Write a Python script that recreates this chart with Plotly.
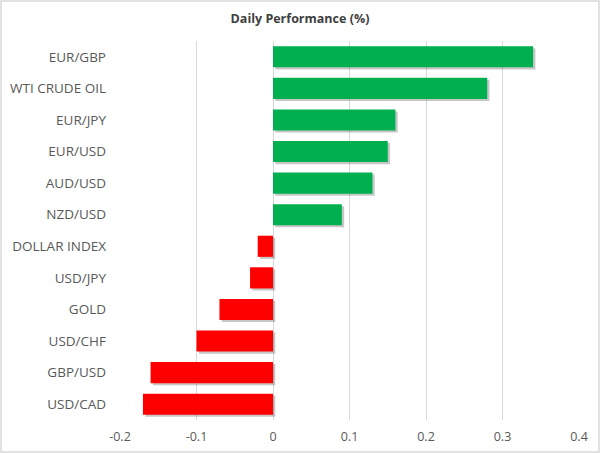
import plotly.graph_objects as go

categories = ["EUR/GBP", "WTI CRUDE OIL", "EUR/JPY", "EUR/USD", "AUD/USD", "NZD/USD",
              "DOLLAR INDEX", "USD/JPY", "GOLD", "USD/CHF", "GBP/USD", "USD/CAD"]
values = [0.34, 0.28, 0.16, 0.15, 0.13, 0.09, -0.02, -0.03, -0.07, -0.10, -0.16, -0.17]
tick_vals = [-0.2, -0.1, 0, 0.1, 0.2, 0.3, 0.4]
tick_text = ["-0.2", "-0.1", "0", "0.1", "0.2", "0.3", "0.4"]

colors = ["#00B050" if v >= 0 else "#FF0000" for v in values]

W, H = 600, 453
ml, mr, mt, mb = 120, 21, 41, 33

fig = go.Figure()
# soft shadow layer
fig.add_trace(go.Bar(
    x=values, y=categories, orientation="h",
    marker=dict(color="rgba(0,0,0,0.22)", line=dict(width=0)),
    width=0.67, offset=-0.27, hoverinfo="skip", showlegend=False,
    base=[0.003 for v in values],
))
fig.add_trace(go.Bar(
    x=values, y=categories, orientation="h",
    marker=dict(color=colors, line=dict(width=0)),
    width=0.67, offset=-0.335, showlegend=False,
))

pw = W - ml - mr
ph = H - mt - mb
fig.add_shape(type="rect", xref="paper", yref="paper",
              x0=-(ml - 1) / pw, x1=1 + (mr - 1) / pw,
              y0=-(mb - 1) / ph, y1=1 + (mt - 1) / ph,
              line=dict(color="#d9d9d9", width=1.5), layer="below")

fig.update_layout(
    width=W, height=H,
    margin=dict(l=ml, r=mr, t=mt, b=mb, autoexpand=False),
    paper_bgcolor="white", plot_bgcolor="white",
    barmode="overlay",
    title=dict(text="<b>Daily Performance (%)</b>", x=0.5, xanchor="center",
               y=1 - 19 / H, yanchor="middle",
               font=dict(family="Open Sans, Liberation Sans, sans-serif", size=12.5, color="#404040")),
    font=dict(family="Open Sans, Liberation Sans, sans-serif", size=12, color="#595959"),
    xaxis=dict(range=[-0.2, 0.4], tickvals=tick_vals, ticktext=tick_text,
               showgrid=True, gridcolor="#d9d9d9", gridwidth=1, zeroline=False,
               showline=False, ticks="", ticklabelstandoff=7,
               tickfont=dict(size=12.5, color="#595959")),
    yaxis=dict(autorange="reversed", showgrid=False, zeroline=False, showline=False,
               ticks="", ticklabelstandoff=13, tickfont=dict(size=13.5, color="#595959")),
)

fig.write_html("out.html", config={"displayModeBar": False},
               post_script="document.body.style.margin='0';document.body.style.overflow='hidden';")
